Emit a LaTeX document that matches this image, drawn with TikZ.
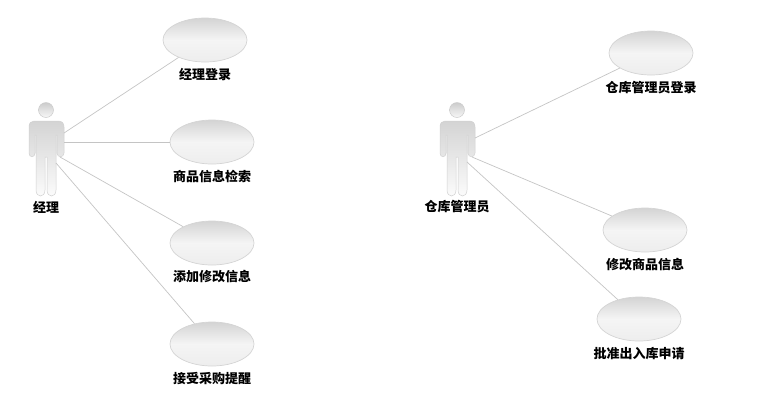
\documentclass[tikz,border=0pt]{standalone}
\usepackage{fontspec}
\usetikzlibrary{shapes.geometric}
\newfontfamily\cjk{Noto Sans CJK SC}
\definecolor{edgec}{HTML}{C4C4C4}
\definecolor{outl}{HTML}{D4D4D4}
\tikzset{
  usecase/.style={ellipse,draw=outl,line width=.7pt,minimum width=84pt,minimum height=44pt,inner sep=0pt,
    top color=black!17,bottom color=black!7,middle color=black!4},
  uclabel/.style={font=\cjk\bfseries\fontsize{13}{14}\selectfont,text=black,inner sep=0pt},
  conn/.style={draw=edgec,line width=.7pt},
  actorbody/.style={draw=black!18,line width=.5pt,top color=black!17,bottom color=black!1},
  actorhead/.style={draw=black!20,line width=.5pt,top color=black!20,bottom color=black!3},
}
\newcommand{\stickman}[2]{%
  \begin{scope}[shift={(#1,0)}]
    \node[circle,actorhead,minimum size=15pt,inner sep=0pt] (#2head) at (0,110) {};
    \path[actorbody] (-12,121) -- (12,121)
      .. controls (16,121) and (18,123) .. (18,127)
      -- (18,153) .. controls (18,158) and (11,158) .. (11,153)
      -- (11,135) -- (10,135) -- (10,190)
      .. controls (10,198) and (1,198) .. (1,190)
      -- (1,157) -- (-1,157) -- (-1,190)
      .. controls (-1,198) and (-10,198) .. (-10,190)
      -- (-10,135) -- (-11,135) -- (-11,153)
      .. controls (-11,158) and (-17,158) .. (-17,153)
      -- (-17,127) .. controls (-17,123) and (-15,121) .. (-12,121) -- cycle;
  \end{scope}}
\begin{document}
\begin{tikzpicture}[x=1pt,y=-1pt]
\useasboundingbox (0,0) rectangle (766,408);
\stickman{46}{mgr}
\stickman{457}{wh}
\coordinate (m1) at (64,133);
\coordinate (m2) at (64,142);
\coordinate (m3) at (60,157);
\coordinate (m4) at (56,163);
\coordinate (w1) at (475,138);
\coordinate (w2) at (472,157);
\coordinate (w3) at (467,162);
\node[usecase] (u1) at (205,40) {};
\node[usecase] (u2) at (212,142) {};
\node[usecase] (u3) at (212,243) {};
\node[usecase] (u4) at (212,344) {};
\node[usecase] (v1) at (651,53) {};
\node[usecase] (v2) at (645,230) {};
\node[usecase] (v3) at (639,319) {};
\draw[conn] (m1) -- (u1);
\draw[conn] (m2) -- (u2);
\draw[conn] (m3) -- (u3);
\draw[conn] (m4) -- (u4);
\draw[conn] (w1) -- (v1);
\draw[conn] (w2) -- (v2);
\draw[conn] (w3) -- (v3);
\node[uclabel] (lm) at (46,207) {经理};
\node[uclabel] (lw) at (457,207) {仓库管理员};
\node[uclabel] (l1) at (205,75) {经理登录};
\node[uclabel] (l2) at (212,176) {商品信息检索};
\node[uclabel] (l3) at (212,277) {添加修改信息};
\node[uclabel] (l4) at (212,379) {接受采购提醒};
\node[uclabel] (r1) at (651,88) {仓库管理员登录};
\node[uclabel] (r2) at (645,265) {修改商品信息};
\node[uclabel] (r3) at (639,354) {批准出入库申请};
\end{tikzpicture}
\end{document}
